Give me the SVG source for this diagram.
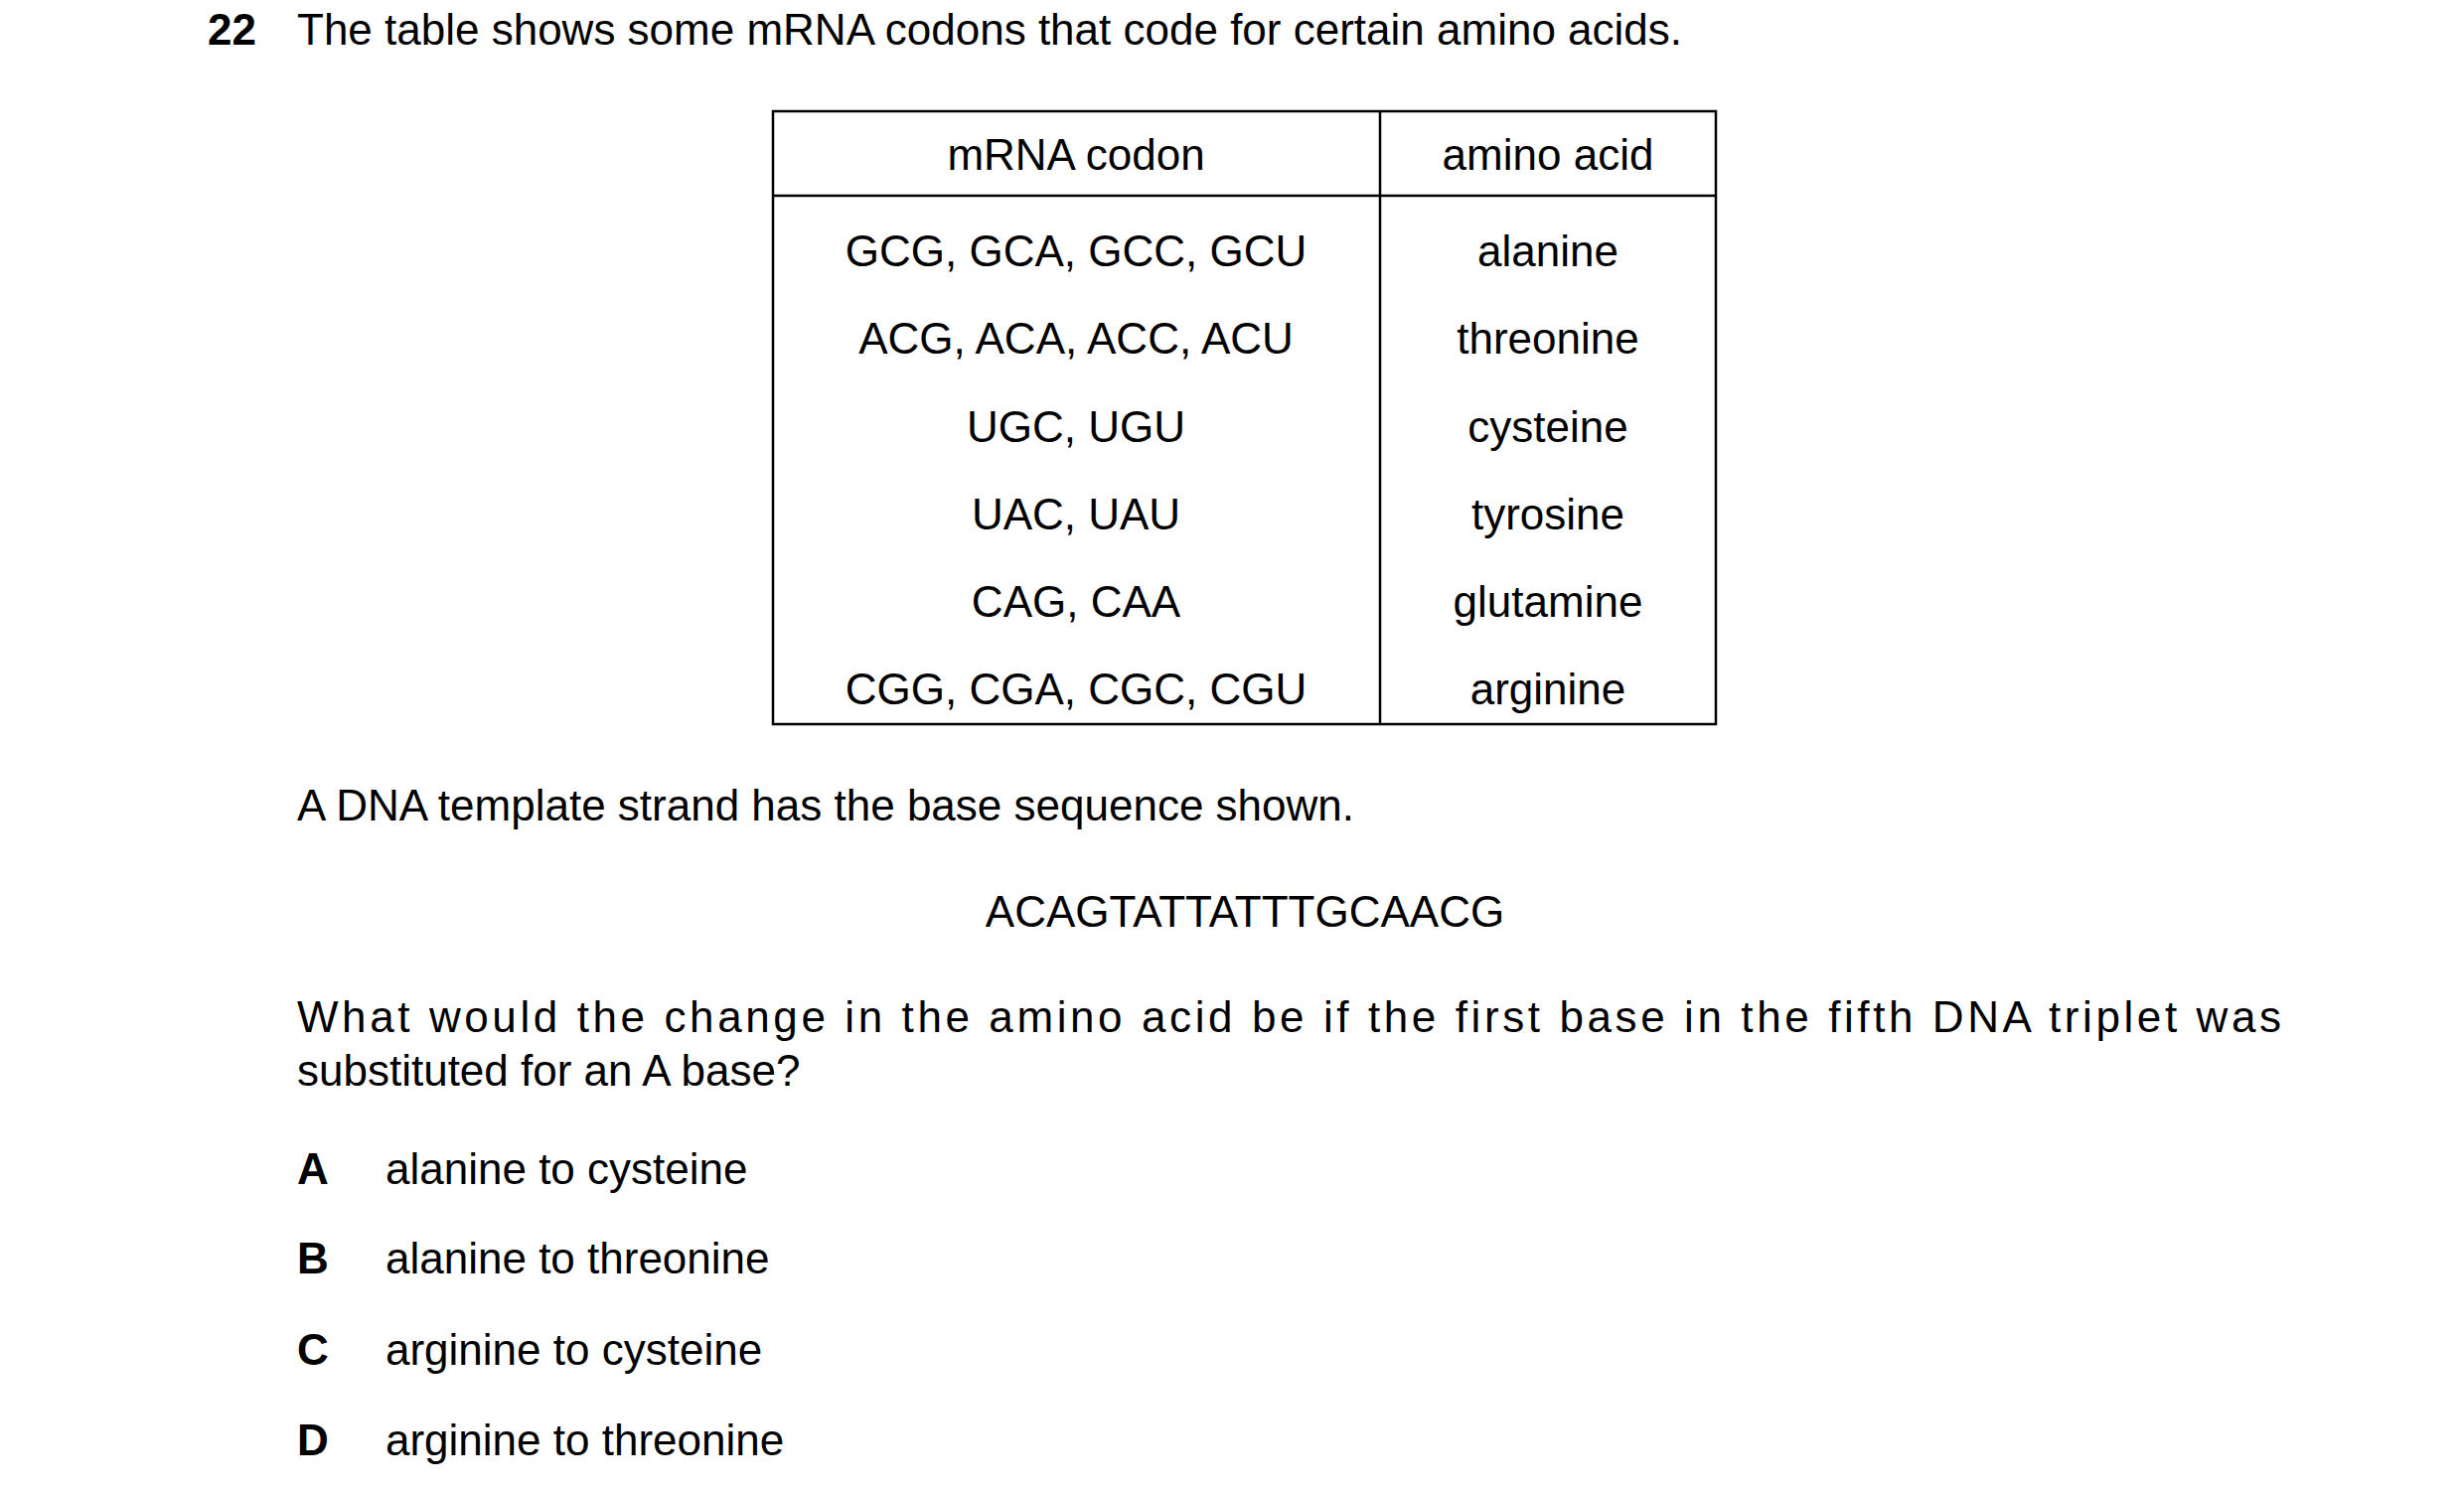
<svg xmlns="http://www.w3.org/2000/svg" width="2480" height="1500" viewBox="0 0 2480 1500">
<style>
text{font-family:"Liberation Sans",Arial,sans-serif;font-size:44px;fill:#000}
.c{text-anchor:middle}
.b{font-weight:bold}
.ln{stroke:#000;stroke-width:2.5;fill:none}
</style>
<rect width="2480" height="1500" fill="#fff"/>
<g id="title">
<text x="209" y="45" class="b">22</text>
<text x="299" y="45">The table shows some mRNA codons that code for certain amino acids.</text>
</g>
<g id="table">
<rect class="ln" x="778" y="112" width="949" height="617"/>
<line class="ln" x1="1389" y1="112" x2="1389" y2="729"/>
<line class="ln" x1="778" y1="197" x2="1727" y2="197"/>
<text class="c" x="1083" y="171">mRNA codon</text>
<text class="c" x="1558" y="171">amino acid</text>
<text class="c" x="1083" y="268">GCG, GCA, GCC, GCU</text>
<text class="c" x="1558" y="268">alanine</text>
<text class="c" x="1083" y="356">ACG, ACA, ACC, ACU</text>
<text class="c" x="1558" y="356">threonine</text>
<text class="c" x="1083" y="445">UGC, UGU</text>
<text class="c" x="1558" y="445">cysteine</text>
<text class="c" x="1083" y="533">UAC, UAU</text>
<text class="c" x="1558" y="533">tyrosine</text>
<text class="c" x="1083" y="621">CAG, CAA</text>
<text class="c" x="1558" y="621">glutamine</text>
<text class="c" x="1083" y="709">CGG, CGA, CGC, CGU</text>
<text class="c" x="1558" y="709">arginine</text>
</g>
<g id="body">
<text x="299" y="826">A DNA template strand has the base sequence shown.</text>
<text class="c" x="1253" y="933">ACAGTATTATTTGCAACG</text>
<text x="299" y="1039" textLength="1997" lengthAdjust="spacing">What would the change in the amino acid be if the first base in the fifth DNA triplet was</text>
<text x="299" y="1093">substituted for an A base?</text>
</g>
<g id="options">
<text x="299" y="1192" class="b">A</text><text x="388" y="1192">alanine to cysteine</text>
<text x="299" y="1282" class="b">B</text><text x="388" y="1282">alanine to threonine</text>
<text x="299" y="1374" class="b">C</text><text x="388" y="1374">arginine to cysteine</text>
<text x="299" y="1465" class="b">D</text><text x="388" y="1465">arginine to threonine</text>
</g>
</svg>
